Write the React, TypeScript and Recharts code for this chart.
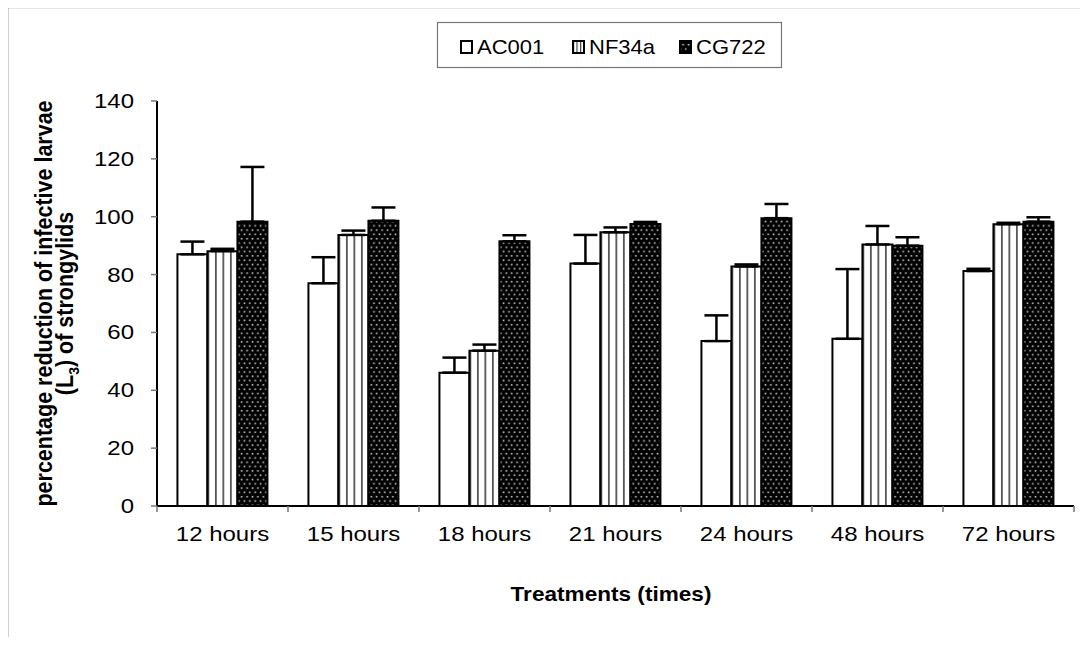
import React from 'react';
import { BarChart, Bar, XAxis, YAxis, ErrorBar } from 'recharts';

// treatment times on the category axis
const categories = ['12 hours', '15 hours', '18 hours', '21 hours', '24 hours', '48 hours', '72 hours'];

// mean percentage reduction per isolate, with the upper error
const ac001 = [87.0, 77.0, 46.1, 83.8, 57.0, 57.8, 81.2];
const ac001Err = [4.4, 9.0, 5.2, 9.9, 8.9, 24.1, 0.8];
const nf34a = [88.1, 93.7, 53.7, 94.6, 82.8, 90.4, 97.4];
const nf34aErr = [0.8, 1.5, 2.1, 1.7, 0.7, 6.4, 0.5];
const cg722 = [98.3, 98.6, 91.5, 97.5, 99.5, 90.0, 98.3];
const cg722Err = [18.9, 4.6, 2.1, 0.7, 4.9, 2.9, 1.5];

const yTicks = [0, 20, 40, 60, 80, 100, 120, 140];

// numeric x: bars sit on half steps, tick marks on whole steps (between groups)
const xTicks: number[] = [];
for (let i = 0; i <= categories.length * 2; i++) xTicks.push(i / 2);

const data = categories.map((name, i) => ({
  name,
  pos: i + 0.5,
  ac001: ac001[i],
  ac001Err: [0, ac001Err[i]],
  nf34a: nf34a[i],
  nf34aErr: [0, nf34aErr[i]],
  cg722: cg722[i],
  cg722Err: [0, cg722Err[i]],
}));

const FONT = '"Liberation Sans", Arial, Helvetica, sans-serif';

const Patterns = () => (
  <svg width={0} height={0} style={{ position: 'absolute' }}>
    <defs>
      <pattern id="vstripe" patternUnits="objectBoundingBox" patternContentUnits="objectBoundingBox" width={0.25} height={1}>
        <rect x={0} y={0} width={0.25} height={1} fill="#fff" />
        <rect x={0} y={0} width={0.06} height={1} fill="#555" />
      </pattern>
      <pattern id="vstripeIcon" patternUnits="userSpaceOnUse" width={3.6} height={12}>
        <rect x={0} y={0} width={3.6} height={12} fill="#fff" />
        <rect x={0} y={0} width={1.2} height={12} fill="#444" />
      </pattern>
      <pattern id="dots" patternUnits="userSpaceOnUse" width={5.4} height={8.6}>
        <rect x={0} y={0} width={5.4} height={8.6} fill="#000" />
        <rect x={0.6} y={1.4} width={1.6} height={1.6} fill="#c8c8c8" />
        <rect x={3.3} y={5.7} width={1.6} height={1.6} fill="#c8c8c8" />
      </pattern>
    </defs>
  </svg>
);

const XTick = (props: any) => {
  const { x, y, payload } = props;
  const axisY = y - 6;
  const v = payload.value as number;
  if (Number.isInteger(v)) {
    return <line x1={x} x2={x} y1={axisY} y2={axisY + 6} stroke="#777" strokeWidth={1.5} />;
  }
  return (
    <g transform={`translate(${x},${axisY + 34.5}) scale(1.2,1)`}>
      <text x={0} y={0} textAnchor="middle" fontSize={20} fontFamily={FONT} fill="#000">
        {categories[Math.floor(v)]}
      </text>
    </g>
  );
};

const YTick = (props: any) => {
  const { x, y, payload } = props;
  return (
    <g transform={`translate(${x - 17},${y + 7}) scale(1.2,1)`}>
      <text x={0} y={0} textAnchor="end" fontSize={20} fontFamily={FONT} fill="#000">
        {payload.value}
      </text>
    </g>
  );
};

const YTitle = (props: any) => {
  const vb = props.viewBox || { y: 101, height: 405 };
  const cy = vb.y + vb.height / 2;
  return (
    <g fontFamily={FONT} fontWeight="bold" fontSize={21.5} fill="#000">
      <g transform={`translate(52,${cy}) rotate(-90) scale(1,1.1)`}>
        <text x={0} y={0} textAnchor="middle">percentage reduction of infective larvae</text>
      </g>
      <g transform={`translate(73,${cy}) rotate(-90) scale(1,1.1)`}>
        <text x={0} y={0} textAnchor="middle">
          (L<tspan fontSize={14} dy={5}>3</tspan>
          <tspan dy={-5}>) of strongylids</tspan>
        </text>
      </g>
    </g>
  );
};

const XTitle = () => (
  <g transform="translate(611,601) scale(1.13,1)">
    <text x={0} y={0} textAnchor="middle" fontFamily={FONT} fontWeight="bold" fontSize={20} fill="#000">
      Treatments (times)
    </text>
  </g>
);

const legendItems = [
  { label: 'AC001', fill: '#fff', iconX: 25, textX: 41 },
  { label: 'NF34a', fill: 'url(#vstripeIcon)', iconX: 137, textX: 153 },
  { label: 'CG722', fill: 'url(#dots)', iconX: 244, textX: 260 },
];

const LegendBox = () => (
  <svg width={347} height={48} style={{ position: 'absolute', left: 436, top: 21 }}>
    <rect x={1.5} y={1.5} width={344} height={45} fill="#fff" stroke="#777" strokeWidth={1.2} />
    {legendItems.map((it) => (
      <g key={it.label}>
        <rect x={it.iconX} y={20} width={11} height={12} fill={it.fill} stroke="#000" strokeWidth={2} />
        <g transform={`translate(${it.textX},32.5) scale(1.1,1)`}>
          <text x={0} y={0} fontSize={20} fontFamily={FONT} fill="#000">{it.label}</text>
        </g>
      </g>
    ))}
  </svg>
);

// outer frame of the figure; only its top and left edges fall on the page
const Frame = () => (
  <svg width={1088} height={645} style={{ position: 'absolute', left: 0, top: 0, pointerEvents: 'none' }}>
    <line x1={7} y1={7.5} x2={1088} y2={7.5} stroke="#999" strokeWidth={1.5} />
    <line x1={7.5} y1={7} x2={7.5} y2={645} stroke="#444" strokeWidth={1.5} />
  </svg>
);

export default function App() {
  return (
    <div style={{ position: 'relative', width: 1088, height: 645, margin: -8, background: '#fff', overflow: 'hidden' }}>
      <Patterns />
      <div style={{ position: 'absolute', left: 0, top: 0 }}>
        <BarChart
          width={1088}
          height={645}
          data={data}
          margin={{ top: 101, right: 14, bottom: 99, left: 97 }}
          barCategoryGap="15.6%"
          barGap={0}
        >
          <XAxis
            dataKey="pos"
            type="number"
            domain={[0, categories.length]}
            ticks={xTicks}
            interval={0}
            height={40}
            tickSize={6}
            tickMargin={0}
            tickLine={false}
            axisLine={{ stroke: '#000', strokeWidth: 2 }}
            tick={<XTick />}
            label={<XTitle />}
          />
          <YAxis
            domain={[0, 140]}
            ticks={yTicks}
            interval={0}
            width={60}
            tickSize={6}
            tickMargin={0}
            tickLine={{ stroke: '#777', strokeWidth: 1.5 }}
            axisLine={{ stroke: '#000', strokeWidth: 2 }}
            tick={<YTick />}
            label={<YTitle />}
          />
          <Bar dataKey="ac001" fill="#fff" stroke="#000" strokeWidth={2} isAnimationActive={false}>
            <ErrorBar dataKey="ac001Err" direction="y" width={12} stroke="#000" strokeWidth={2.5} isAnimationActive={false} />
          </Bar>
          <Bar dataKey="nf34a" fill="url(#vstripe)" stroke="#000" strokeWidth={2} isAnimationActive={false}>
            <ErrorBar dataKey="nf34aErr" direction="y" width={12} stroke="#000" strokeWidth={2.5} isAnimationActive={false} />
          </Bar>
          <Bar dataKey="cg722" fill="url(#dots)" stroke="#000" strokeWidth={2} isAnimationActive={false}>
            <ErrorBar dataKey="cg722Err" direction="y" width={12} stroke="#000" strokeWidth={2.5} isAnimationActive={false} />
          </Bar>
        </BarChart>
      </div>
      <LegendBox />
      <Frame />
    </div>
  );
}
